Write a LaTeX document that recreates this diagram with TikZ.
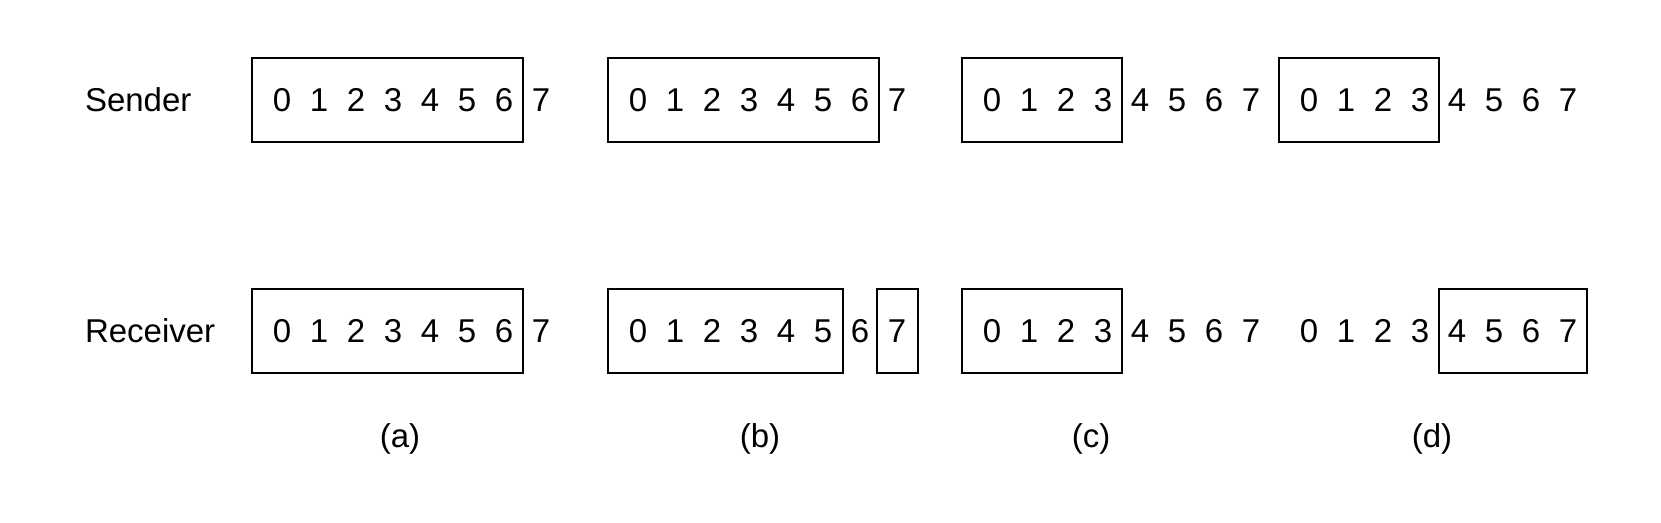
\documentclass[tikz,border=0pt]{standalone}
\usepackage{fontspec}
\setmainfont{Liberation Sans}
\usepackage{tikz}
\usetikzlibrary{calc}

\newcommand\win[4]{\draw ($(#1.base)+(-#3,-54)$) rectangle ($(#2.base)+(#4,30)$);}

\begin{document}
\begin{tikzpicture}[x=0.5pt, y=-0.5pt, line width=1pt,
	num/.style={anchor=base, inner sep=0pt, font=\fontsize{16.5}{20}\selectfont},
	lab/.style={anchor=base west, inner sep=0pt, font=\fontsize{16.5}{20}\selectfont},
	sub/.style={anchor=base, inner sep=0pt, font=\fontsize{16.5}{20}\selectfont}]

\useasboundingbox (0,0) rectangle (1661,523);

\node[lab] (sender)   at (84,112) {Sender};
\node[lab] (receiver) at (84,343) {Receiver};

\foreach \c/\x in {a/282, b/638, c/992, d/1309}{
	\foreach \i in {0,...,7}{
		\node[num] (s\c\i) at (\x+37*\i,112) {\i};
		\node[num] (r\c\i) at (\x+37*\i,343) {\i};
	}
}

\win{sa0}{sa6}{30}{18.5}
\win{ra0}{ra6}{30}{18.5}

\win{sb0}{sb6}{30}{18.5}
\win{rb0}{rb5}{30}{19.5}
\win{rb7}{rb7}{20}{20.5}

\win{sc0}{sc3}{30}{18.5}
\win{rc0}{rc3}{30}{18.5}

\win{sd0}{sd3}{30}{18.5}
\win{rd4}{rd7}{18.5}{18.5}

\node[sub] (suba) at (400,448)  {(a)};
\node[sub] (subb) at (760,448)  {(b)};
\node[sub] (subc) at (1091,448) {(c)};
\node[sub] (subd) at (1432,448) {(d)};

\end{tikzpicture}
\end{document}
